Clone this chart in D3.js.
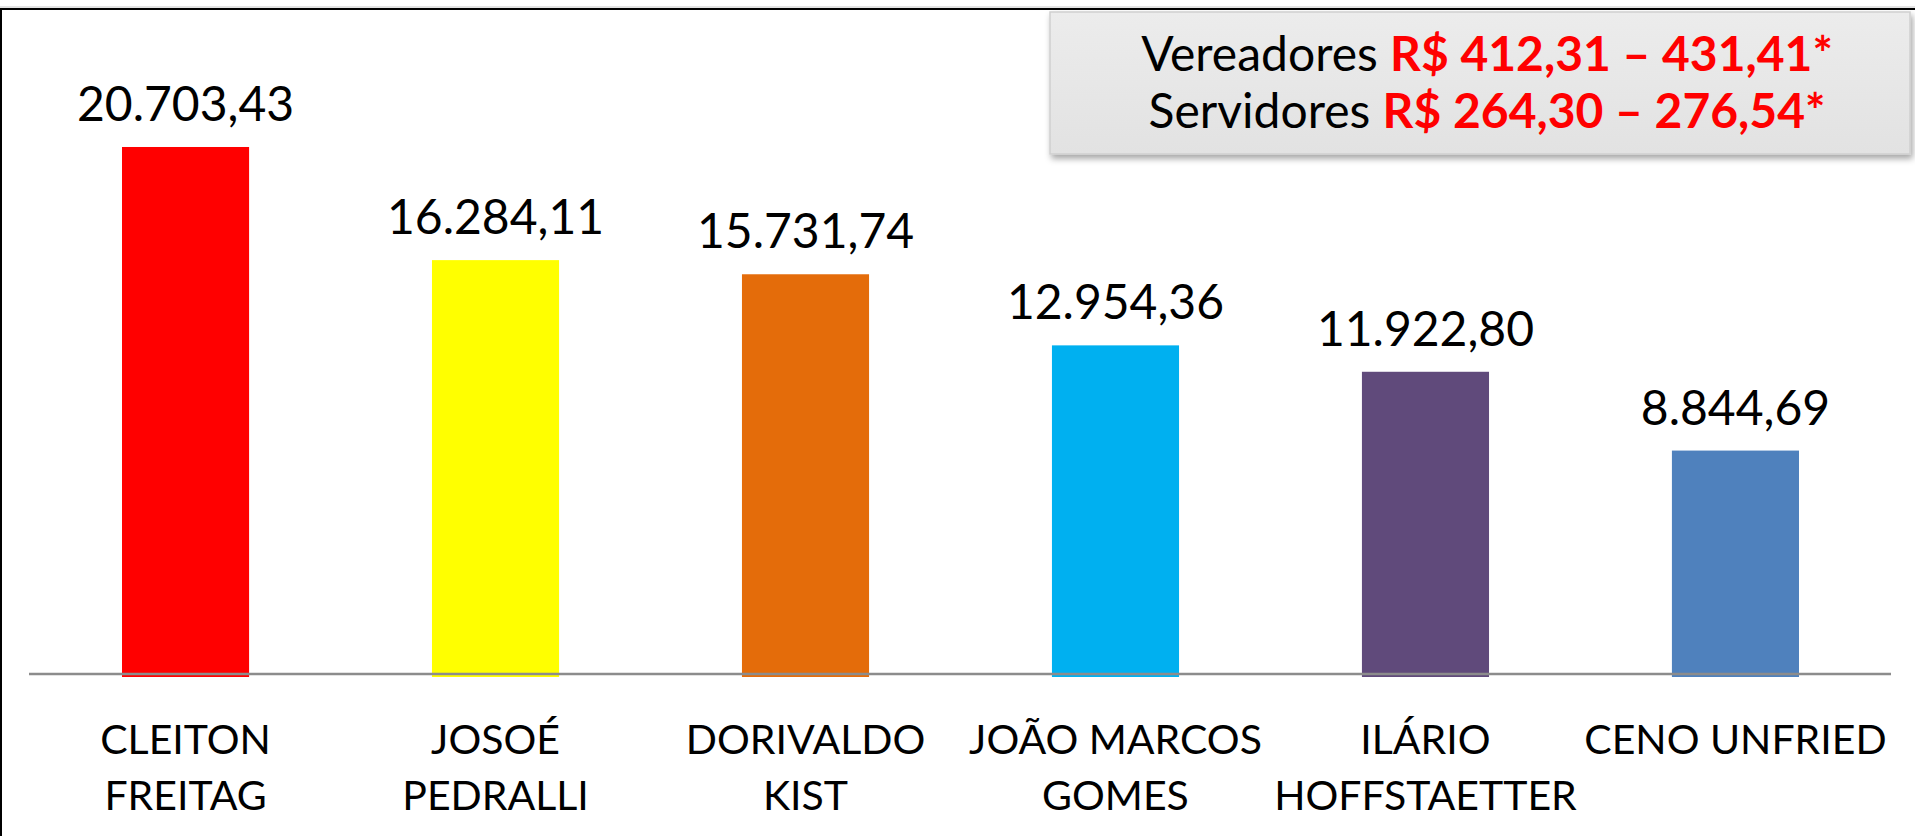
<!DOCTYPE html>
<html>
<head>
<meta charset="utf-8">
<script src="https://cdn.jsdelivr.net/npm/d3@7/dist/d3.min.js"></script>
<style>
  html, body { margin: 0; padding: 0; background: #fff; }
  svg { display: block; }
</style>
</head>
<body>
<svg id="chart" width="1915" height="836"></svg>
<script>
// ---- data ----
const categories = [
  ["CLEITON", "FREITAG"],
  ["JOSOÉ", "PEDRALLI"],
  ["DORIVALDO", "KIST"],
  ["JOÃO MARCOS", "GOMES"],
  ["ILÁRIO", "HOFFSTAETTER"],
  ["CENO UNFRIED"]
];
const values = [20703.43, 16284.11, 15731.74, 12954.36, 11922.80, 8844.69];
const valueLabels = ["20.703,43", "16.284,11", "15.731,74", "12.954,36", "11.922,80", "8.844,69"];
const barColors = ["#FF0000", "#FFFF00", "#E46C0A", "#00B0F0", "#604A7B", "#4F81BD"];
const noteLabels = ["Vereadores", "Servidores"];
const noteValues = ["R$ 412,31 – 431,41*", "R$ 264,30 – 276,54*"];

// ---- layout ----
const W = 1915, H = 836;
const svg = d3.select("#chart");
const font = "Lato, 'Open Sans', sans-serif";

const x = d3.scaleBand().domain(d3.range(values.length)).range([29, 1892]).paddingInner(0.59).paddingOuter(0.3);
const y = d3.scaleLinear().domain([0, 25000]).range([677, 37]);

// frame
svg.append("line").attr("x1", 0).attr("x2", W).attr("y1", 7).attr("y2", 7).attr("stroke", "#c8c8c8").attr("stroke-width", 1);
svg.append("line").attr("x1", 0).attr("x2", W).attr("y1", 9).attr("y2", 9).attr("stroke", "#000").attr("stroke-width", 2);
svg.append("line").attr("x1", 1).attr("x2", 1).attr("y1", 8).attr("y2", H).attr("stroke", "#000").attr("stroke-width", 2);

// bars
svg.append("g").selectAll("rect").data(values).join("rect")
  .attr("x", (d, i) => x(i))
  .attr("width", x.bandwidth())
  .attr("y", d => y(d))
  .attr("height", d => y(0) - y(d))
  .attr("fill", (d, i) => barColors[i]);

// axis line
svg.append("line").attr("x1", 29).attr("x2", 1891).attr("y1", y(0) - 3).attr("y2", y(0) - 3)
  .attr("stroke", "#8c8c8c").attr("stroke-width", 2.5);

// value labels
svg.append("g").selectAll("text").data(values).join("text")
  .attr("x", (d, i) => x(i) + x.bandwidth() / 2)
  .attr("y", d => y(d) - 26)
  .attr("text-anchor", "middle")
  .attr("font-family", font)
  .attr("font-size", 48)
  .attr("fill", "#000")
  .text((d, i) => valueLabels[i]);

// category labels
const cat = svg.append("g").selectAll("text").data(categories).join("text")
  .attr("x", (d, i) => x(i) + x.bandwidth() / 2)
  .attr("y", 754)
  .attr("text-anchor", "middle")
  .attr("font-family", font)
  .attr("font-size", 41)
  .attr("fill", "#000");
cat.selectAll("tspan").data(d => d).join("tspan")
  .attr("x", function() { return d3.select(this.parentNode).attr("x"); })
  .attr("dy", (d, j) => j === 0 ? 0 : 56)
  .text(d => d);

// note box
const defs = svg.append("defs");
const grad = defs.append("linearGradient").attr("id", "boxg").attr("x1", 0).attr("y1", 0).attr("x2", 0).attr("y2", 1);
grad.append("stop").attr("offset", "0%").attr("stop-color", "#ececec");
grad.append("stop").attr("offset", "100%").attr("stop-color", "#e2e2e2");
const filt = defs.append("filter").attr("id", "shadow").attr("x", "-5%").attr("y", "-10%").attr("width", "110%").attr("height", "130%");
filt.append("feDropShadow").attr("dx", 2).attr("dy", 4).attr("stdDeviation", 3).attr("flood-color", "#000").attr("flood-opacity", 0.35);

svg.append("rect").attr("x", 1050).attr("y", 12).attr("width", 860).attr("height", 142)
  .attr("fill", "url(#boxg)").attr("stroke", "#cfcfcf").attr("stroke-width", 1.5)
  .attr("filter", "url(#shadow)");

const note = svg.append("g").selectAll("text").data(noteLabels).join("text")
  .attr("x", 1487)
  .attr("y", (d, i) => 71 + i * 57)
  .attr("text-anchor", "middle")
  .attr("font-family", font)
  .attr("font-size", 48);
note.append("tspan").attr("fill", "#000").text(d => d + " ");
note.append("tspan").attr("fill", "#FF0000").attr("font-weight", "bold").text((d, i) => noteValues[i]);
</script>
</body>
</html>
